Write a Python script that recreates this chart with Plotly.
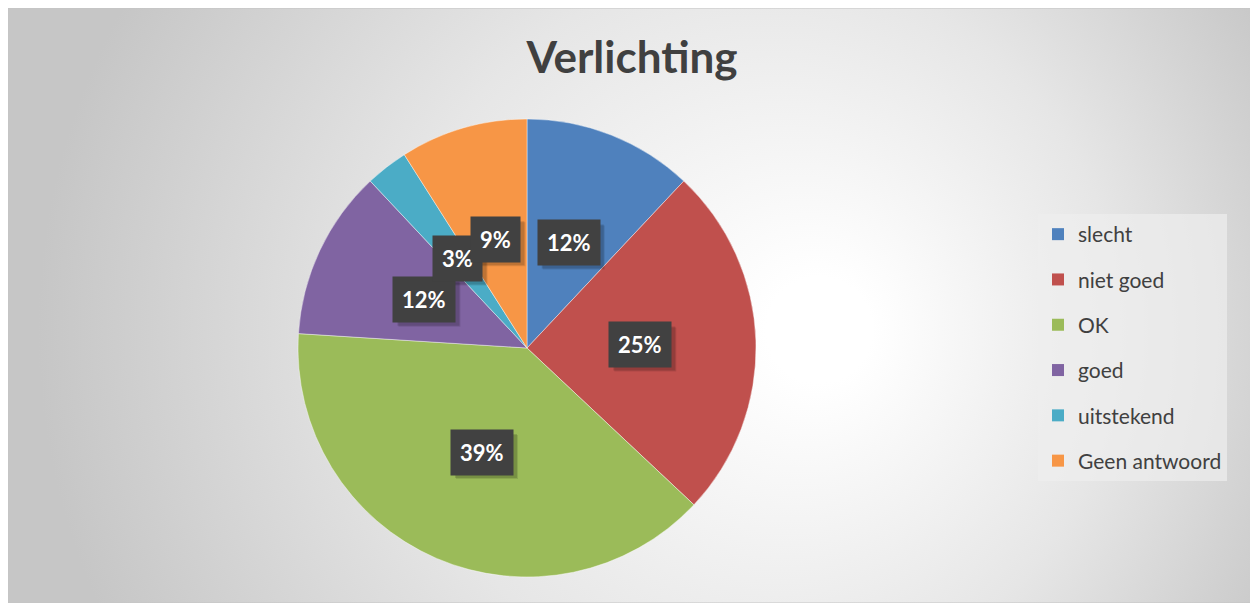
import base64
import math
import plotly.graph_objects as go

# ---- data ----
categories = ["slecht", "niet goed", "OK", "goed", "uitstekend", "Geen antwoord"]
percentages = [12, 25, 39, 12, 3, 9]
colors = ["#4F81BD", "#C0504D", "#9BBB59", "#8064A2", "#4BACC6", "#F79646"]
title_text = "Verlichting"

# page body has an 8px margin, so the figure is drawn 8px in from the window edge
W, H = 1250, 595
FONT = "Lato, 'Open Sans', sans-serif"

# pie domain (figure pixels)
px_left, px_right = 290, 748
px_top, px_bottom = 111, 569
dom_x = [px_left / W, px_right / W]
dom_y = [1 - px_bottom / H, 1 - px_top / H]
cx_px = (px_left + px_right) / 2
cy_px = (px_top + px_bottom) / 2
R_px = (px_right - px_left) / 2

# background gradient as svg image
svg = f'''<svg xmlns="http://www.w3.org/2000/svg" width="{W}" height="{H}" viewBox="0 0 {W} {H}">
<defs><radialGradient id="g" gradientUnits="userSpaceOnUse" cx="690" cy="322" r="660" fx="822" fy="322">
<stop offset="0" stop-color="#ffffff"/><stop offset="0.08" stop-color="#ffffff"/>
<stop offset="0.55" stop-color="#e6e6e6"/>
<stop offset="1" stop-color="#c6c6c6"/></radialGradient></defs>
<rect x="0" y="0" width="{W}" height="{H}" fill="url(#g)"/></svg>'''
src = "data:image/svg+xml;base64," + base64.b64encode(svg.encode()).decode()

fig = go.Figure()
fig.add_trace(go.Pie(
    labels=categories, values=percentages, sort=False, direction="clockwise",
    rotation=0, marker=dict(colors=colors, line=dict(color="rgba(255,255,255,0.6)", width=0.7)),
    textinfo="none", hoverinfo="label+percent", showlegend=False,
    domain=dict(x=dom_x, y=dom_y),
))

# legend via empty scatter traces (for spacing control)
for cat, col in zip(categories, colors):
    fig.add_trace(go.Scatter(
        x=[None], y=[None], mode="markers", name=cat, legendgroup=cat,
        marker=dict(symbol="square", size=14, color=col),
    ))

# data labels at mid-angle of each slice (with soft drop-shadow rectangles)
total = sum(percentages)
cum = 0
annotations = []
shapes = [dict(type="rect", xref="paper", yref="paper", x0=0, x1=1, y0=0, y1=1,
               line=dict(color="#c4c4c4", width=1), layer="below")]
for v in percentages:
    mid = (cum + v / 2) / total * 2 * math.pi
    cum += v
    rr = 0.495 * R_px
    lx = cx_px + rr * math.sin(mid)
    ly = cy_px - rr * math.cos(mid)
    pct = str(round(v / total * 100))
    label = f"<b>{pct}%</b>"
    bw = 20 + 12 * len(pct) + 18
    bh = 44
    for off, alpha in ((5, 0.10), (4, 0.14)):
        shapes.append(dict(
            type="rect", xref="paper", yref="paper", layer="above",
            x0=(lx - bw / 2 + off) / W, x1=(lx + bw / 2 + off) / W,
            y0=1 - (ly + bh / 2 + off) / H, y1=1 - (ly - bh / 2 + off) / H,
            fillcolor=f"rgba(0,0,0,{alpha})", line=dict(width=0),
        ))
    annotations.append(dict(
        x=lx / W, y=1 - ly / H, xref="paper", yref="paper",
        xanchor="center", yanchor="middle",
        text=label, showarrow=False, font=dict(size=22, color="white", family=FONT),
        bgcolor="#414141", borderpad=9,
    ))

fig.update_layout(
    width=W, height=H,
    margin=dict(l=0, r=0, t=0, b=0),
    paper_bgcolor="white", plot_bgcolor="rgba(0,0,0,0)",
    title=dict(text=f"<b>{title_text}</b>", x=624 / W, y=1 - 50 / H, xanchor="center",
               yanchor="middle", font=dict(size=44, color="#404040", family=FONT)),
    xaxis=dict(visible=False, domain=[0.99, 1.0]),
    yaxis=dict(visible=False, domain=[0.99, 1.0]),
    legend=dict(x=1030 / W, y=1 - 206 / H, xanchor="left", yanchor="top",
                bgcolor="rgba(238,238,238,0.7)", font=dict(size=21, color="#404040", family=FONT),
                tracegroupgap=15, itemsizing="constant"),
    images=[dict(source=src, xref="paper", yref="paper", x=0, y=1,
                 sizex=1, sizey=1, xanchor="left", yanchor="top",
                 sizing="stretch", layer="below")],
    shapes=shapes,
    annotations=annotations,
)

fig.write_html("out.html")
